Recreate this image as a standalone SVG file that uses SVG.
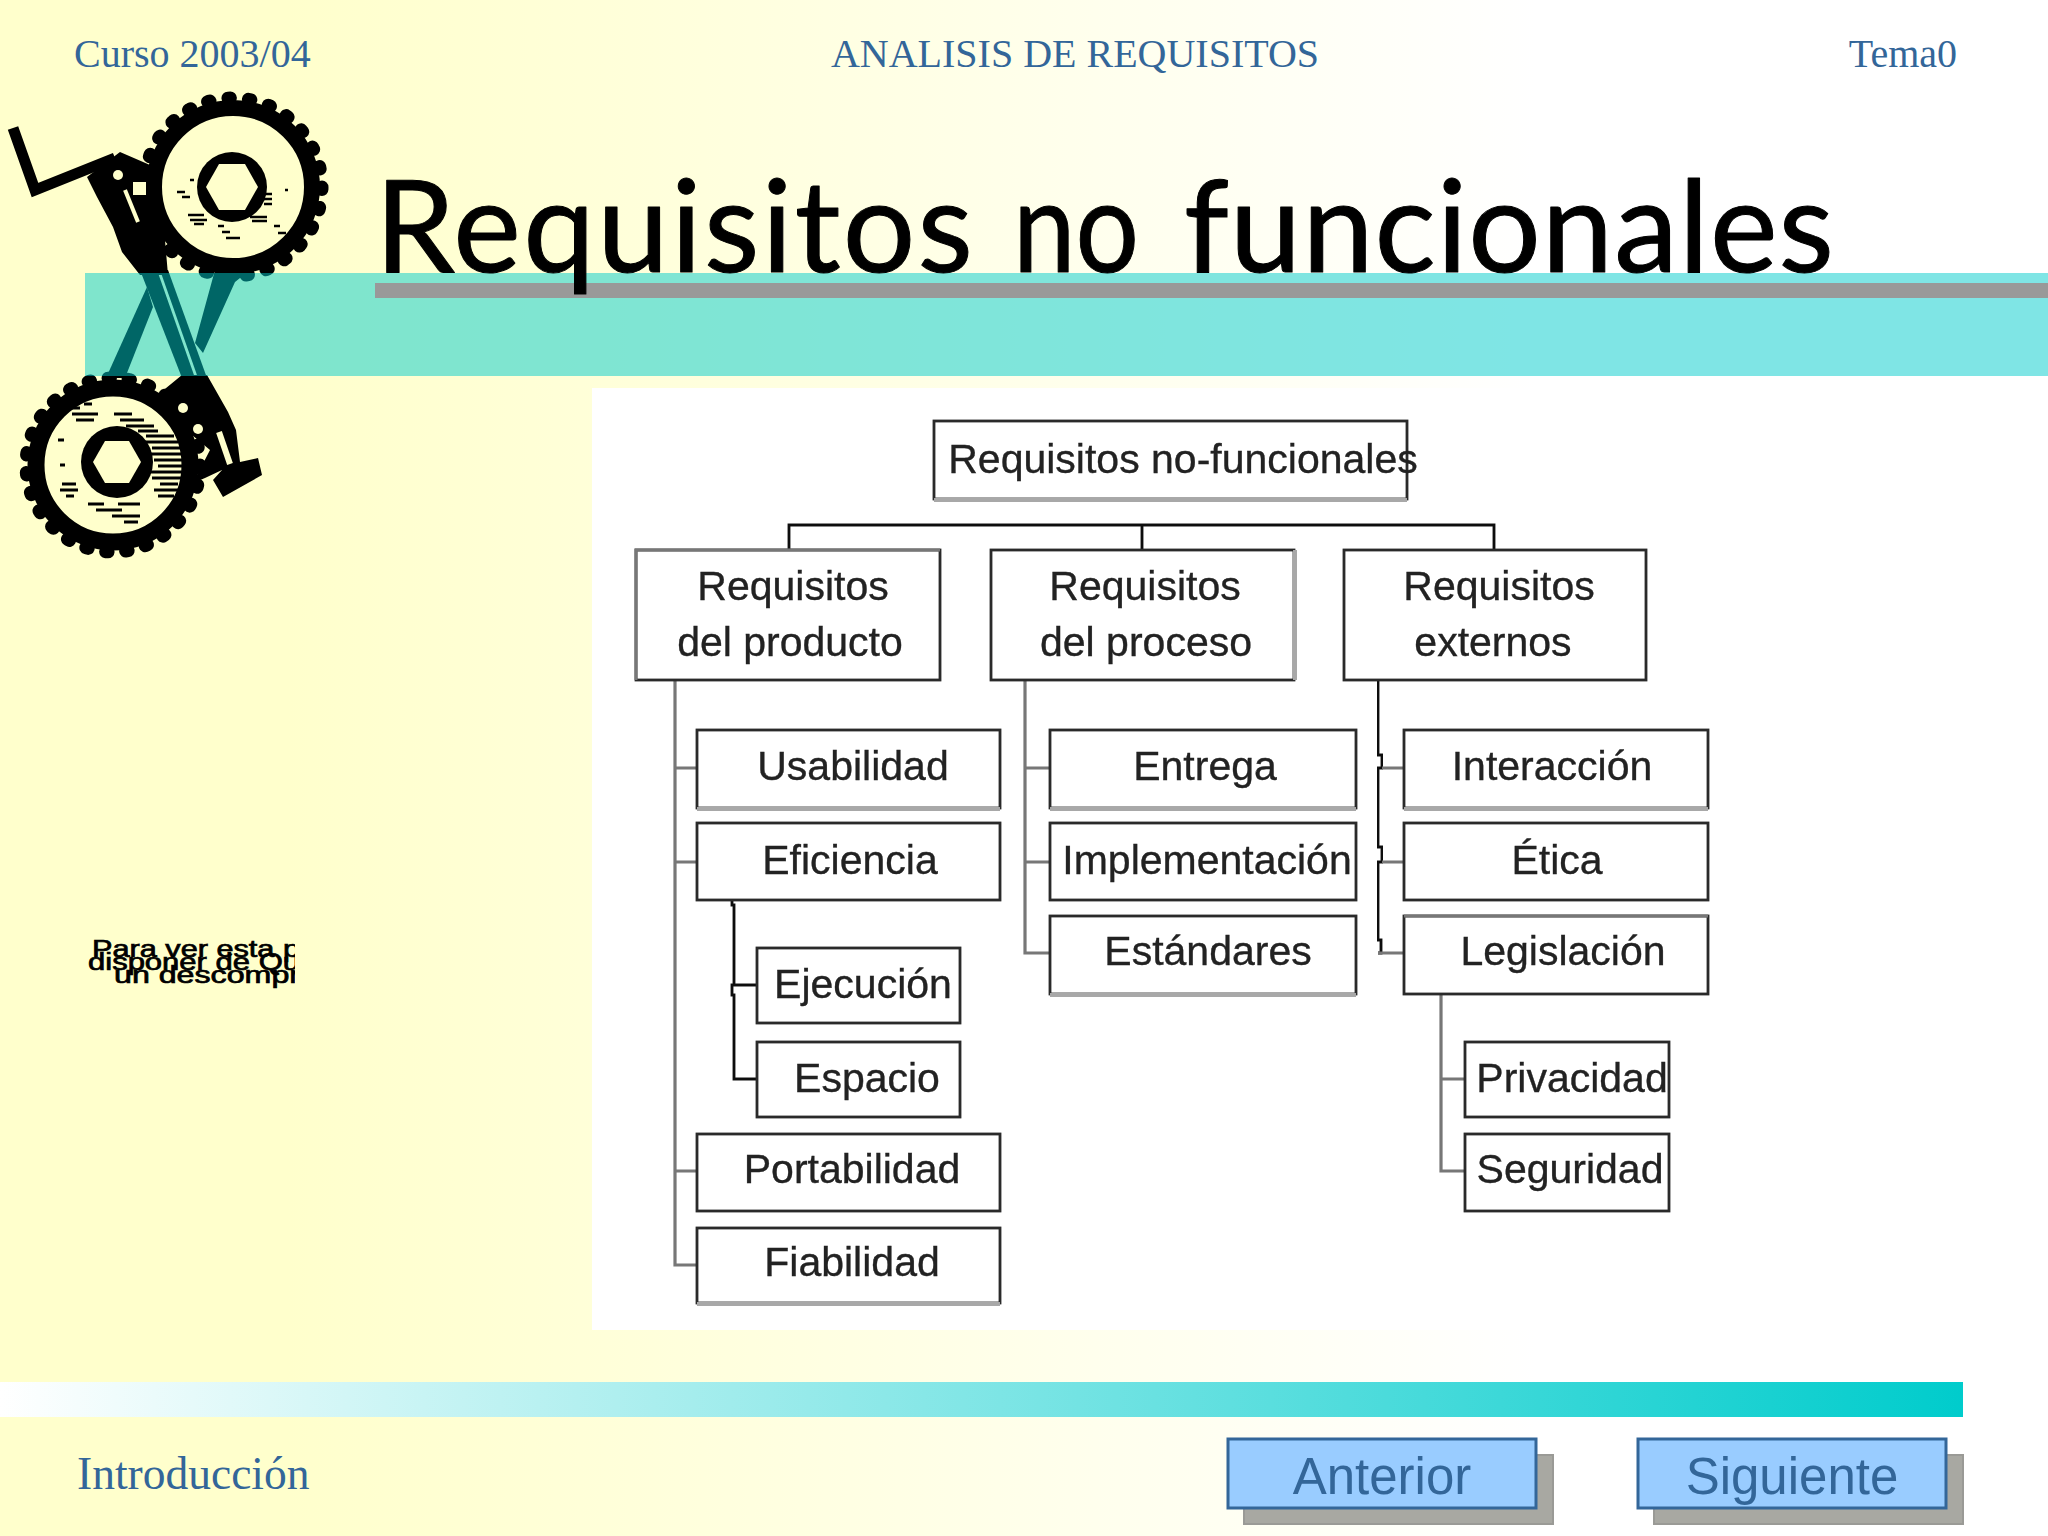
<svg xmlns="http://www.w3.org/2000/svg" width="2048" height="1536" viewBox="0 0 2048 1536">
<defs>
<linearGradient id="bg" x1="0" y1="0" x2="1" y2="0"><stop offset="0" stop-color="#ffffcc"/><stop offset="0.14" stop-color="#ffffcc"/><stop offset="0.75" stop-color="#ffffff"/></linearGradient>
<linearGradient id="bar" x1="0" y1="0" x2="1" y2="0"><stop offset="0" stop-color="#ffffff"/><stop offset="1" stop-color="#00cccc"/></linearGradient>
<filter id="soft" x="-5%" y="-5%" width="110%" height="110%"><feGaussianBlur stdDeviation="0.7"/></filter>
<clipPath id="qt"><rect x="60" y="930" width="235" height="60"/></clipPath>
<style>
.head{font-family:"Liberation Serif",serif;font-size:40px;fill:#336699}
.box{fill:#ffffff;stroke:#2a2a2a;stroke-width:2.8}
.e{stroke:#a8a8a8;stroke-width:4;fill:none}
.lbl{font-family:"Liberation Sans",Arial,sans-serif;font-size:41px;fill:#222;stroke:#222;stroke-width:.35;text-anchor:middle}
.n{filter:url(#soft)}
.con{fill:none;stroke:#777777;stroke-width:3.2;filter:url(#soft)}
.dk{stroke:#111111;stroke-width:2.8}
.lt{stroke:#b5b5b5;stroke-width:4.5}
.btn{fill:#99ccff;stroke:#336699;stroke-width:3}
.shd{fill:#a8a8a2;stroke:#9a9a96;stroke-width:2}
.btxt{font-family:"Liberation Sans",Arial,sans-serif;font-size:51px;fill:#336699;text-anchor:middle}
.qt{font-family:"Liberation Sans",Arial,sans-serif;font-size:23px;fill:#000;stroke:#000;stroke-width:.7}
.ink{fill:#000}
.hole{fill:#ffffcc}
.gr{fill:none;stroke:#000}
</style>
</defs>
<rect width="2048" height="1536" fill="url(#bg)"/>

<g id="logo">
<!-- upper gear -->
<circle class="gr" cx="233" cy="187" r="89" stroke-width="13" stroke-linecap="round" pathLength="27" stroke-dasharray="0.12 0.88"/>
<circle class="gr" cx="233" cy="187" r="79" stroke-width="16"/>
<circle class="ink" cx="232" cy="187" r="35"/>
<polygon class="hole" points="258,187 245,210 219,210 206,187 219,164 245,164"/>
<path class="gr" stroke-width="2.5" d="M177 192h8M182 197h8M188 215h16M190 220h17M194 224h10M250 217h17M252 221h15M263 194h9M262 199h10M264 204h8M222 232h8M226 238h14M218 226h6M274 226h6M278 233h8M190 180h4M285 190h3"/>
<!-- lower gear -->
<circle class="gr" cx="113" cy="465" r="87" stroke-width="13" stroke-linecap="round" pathLength="27" stroke-dasharray="0.12 0.88"/>
<circle class="gr" cx="113" cy="465" r="77" stroke-width="17"/>
<circle class="ink" cx="117" cy="462" r="36"/>
<polygon class="hole" points="141,462 129,483 105,483 93,462 105,441 129,441"/>
<path class="gr" stroke-width="3.2" d="M68 408h12M72 414h26M76 420h18M84 404h8M114 414h18M120 420h24M126 426h28M138 431h20M146 436h28M142 442h36M152 448h28M148 454h34M154 460h28M158 466h26M150 472h34M152 478h30M160 484h18M154 490h24M158 496h16M62 484h14M60 490h18M66 496h8M88 504h16M96 510h26M118 504h22M112 516h28M124 522h14M84 414h4M58 440h6M60 465h5"/>
<!-- crank -->
<polyline points="13,128 35,190 115,158" fill="none" stroke="#000" stroke-width="11"/>
<polygon class="ink" points="87,177 120,152 150,165 165,240 168,275 140,275 122,252 113,227 97,197"/>
<circle class="hole" cx="118" cy="175" r="5"/>
<rect class="hole" x="133" y="182" width="13" height="13"/>
<line x1="125" y1="190" x2="138" y2="222" stroke="#ffffcc" stroke-width="4"/>
<!-- crossing arms -->
<polygon class="ink" points="140,270 157,270 195,378 182,378"/>
<polygon class="ink" points="160,270 168,270 207,378 198,378"/>
<polygon class="ink" points="147,287 153,307 125,378 106,378"/>
<polygon class="ink" points="215,270 250,270 235,282 203,353 195,343"/>
<!-- lower link -->
<polygon class="ink" points="182,375 207,375 228,412 236,430 240,462 258,458 262,475 223,497 213,480 222,470 205,478 193,483 210,450 180,425 160,393"/>
<line x1="219" y1="432" x2="230" y2="464" stroke="#ffffcc" stroke-width="6"/>
<circle class="hole" cx="198" cy="429" r="5"/>
<circle class="hole" cx="183" cy="408" r="5"/>
</g>

<rect id="titleband" x="85" y="273" width="1963" height="103" fill="#00cccc" opacity="0.5"/>
<rect id="titlerule" x="375" y="283" width="1673" height="15" fill="#999999"/>
<text id="title" y="272" font-family="Lato,'Noto Sans',sans-serif" font-size="128" fill="#000" stroke="#000" stroke-width="1" stroke-linejoin="round"><tspan x="375" textLength="598" lengthAdjust="spacing">Requisitos</tspan> <tspan x="1013" textLength="126" lengthAdjust="spacingAndGlyphs">no</tspan> <tspan x="1184" textLength="650" lengthAdjust="spacing">funcionales</tspan></text>

<text class="head" x="74" y="67">Curso 2003/04</text>
<text class="head" x="1075" y="67" text-anchor="middle">ANALISIS DE REQUISITOS</text>
<text class="head" x="1957" y="67" text-anchor="end">Tema0</text>

<g id="quicktime-note" clip-path="url(#qt)">
<text class="qt" x="92" y="957" textLength="208" lengthAdjust="spacingAndGlyphs">Para ver esta p</text>
<text class="qt" x="88" y="970" textLength="212" lengthAdjust="spacingAndGlyphs">disponer de Qu</text>
<text class="qt" x="114" y="983" textLength="186" lengthAdjust="spacingAndGlyphs">un descompr</text>
</g>

<rect id="panel" x="592" y="388" width="1456" height="942" fill="#ffffff"/>

<g id="connectors">
<path class="con lt" d="M1172 499V525"/>
<path class="con dk" d="M789 550V525H1494V550M1142 525V550"/>
<path class="con" d="M675 680V1265H697M675 768H697M675 862H697M675 1171H697"/>
<path class="con dk" d="M732 900V905H734V985H732V995H734V1079H757M734 985H757"/>
<path class="con" d="M1025 680V953H1050M1025 768H1050M1025 862H1050"/>
<path class="con dk" d="M1378 680V755H1382V768H1378V847H1382V862H1378V940H1381V953H1378"/>
<path class="con" d="M1382 768H1404M1382 862H1404M1378 953H1404"/>
<path class="con" d="M1441 994V1171H1465M1441 1079H1465"/>
</g>

<g id="n-root" class="n"><rect class="box" x="934" y="421" width="473" height="78"/><path class="e" d="M934 500H1407"/><text class="lbl" x="1183" y="473">Requisitos no-funcionales</text></g>
<g id="n-producto" class="n"><rect class="box" x="636" y="550" width="304" height="130"/><path class="e" style="stroke:#777;stroke-width:3" d="M636 680V550H940"/><text class="lbl" x="793" y="600">Requisitos</text><text class="lbl" x="790" y="656">del producto</text></g>
<g id="n-proceso" class="n"><rect class="box" x="991" y="550" width="303" height="130"/><path class="e" d="M1295 550V680"/><text class="lbl" x="1145" y="600">Requisitos</text><text class="lbl" x="1146" y="656">del proceso</text></g>
<g id="n-externos" class="n"><rect class="box" x="1344" y="550" width="302" height="130"/><text class="lbl" x="1499" y="600">Requisitos</text><text class="lbl" x="1493" y="656">externos</text></g>

<g id="n-usabilidad" class="n"><rect class="box" x="697" y="730" width="303" height="78"/><path class="e" d="M697 809H1000"/><text class="lbl" x="853" y="780">Usabilidad</text></g>
<g id="n-eficiencia" class="n"><rect class="box" x="697" y="823" width="303" height="77"/><text class="lbl" x="850" y="874">Eficiencia</text></g>
<g id="n-ejecucion" class="n"><rect class="box" x="757" y="948" width="203" height="75"/><text class="lbl" x="863" y="998">Ejecución</text></g>
<g id="n-espacio" class="n"><rect class="box" x="757" y="1042" width="203" height="75"/><text class="lbl" x="867" y="1092">Espacio</text></g>
<g id="n-portabilidad" class="n"><rect class="box" x="697" y="1134" width="303" height="77"/><text class="lbl" x="852" y="1183">Portabilidad</text></g>
<g id="n-fiabilidad" class="n"><rect class="box" x="697" y="1228" width="303" height="75"/><path class="e" d="M697 1304H1000"/><text class="lbl" x="852" y="1276">Fiabilidad</text></g>

<g id="n-entrega" class="n"><rect class="box" x="1050" y="730" width="306" height="78"/><path class="e" d="M1050 809H1356"/><text class="lbl" x="1205" y="780">Entrega</text></g>
<g id="n-implementacion" class="n"><rect class="box" x="1050" y="823" width="306" height="77"/><text class="lbl" x="1207" y="874">Implementación</text></g>
<g id="n-estandares" class="n"><rect class="box" x="1050" y="916" width="306" height="78"/><path class="e" d="M1050 995H1356"/><text class="lbl" x="1208" y="965">Estándares</text></g>

<g id="n-interaccion" class="n"><rect class="box" x="1404" y="730" width="304" height="78"/><path class="e" d="M1404 809H1708"/><text class="lbl" x="1552" y="780">Interacción</text></g>
<g id="n-etica" class="n"><rect class="box" x="1404" y="823" width="304" height="77"/><text class="lbl" x="1557" y="874">Ética</text></g>
<g id="n-legislacion" class="n"><rect class="box" x="1404" y="916" width="304" height="78"/><path class="e" style="stroke:#777;stroke-width:3" d="M1404 916H1708"/><text class="lbl" x="1563" y="965">Legislación</text></g>
<g id="n-privacidad" class="n"><rect class="box" x="1465" y="1042" width="204" height="75"/><text class="lbl" x="1572" y="1092">Privacidad</text></g>
<g id="n-seguridad" class="n"><rect class="box" x="1465" y="1134" width="204" height="77"/><text class="lbl" x="1570" y="1183">Seguridad</text></g>

<rect id="footerbar" x="0" y="1382" width="1963" height="35" fill="url(#bar)"/>
<text class="head" x="77" y="1489" style="font-size:45.5px">Introducción</text>

<g id="btn-anterior"><rect class="shd" x="1244" y="1455" width="309" height="69"/><rect class="btn" x="1228" y="1439" width="308" height="69"/><text class="btxt" x="1382" y="1494">Anterior</text></g>
<g id="btn-siguiente"><rect class="shd" x="1654" y="1455" width="309" height="69"/><rect class="btn" x="1638" y="1439" width="308" height="69"/><text class="btxt" x="1792" y="1494">Siguiente</text></g>
</svg>
